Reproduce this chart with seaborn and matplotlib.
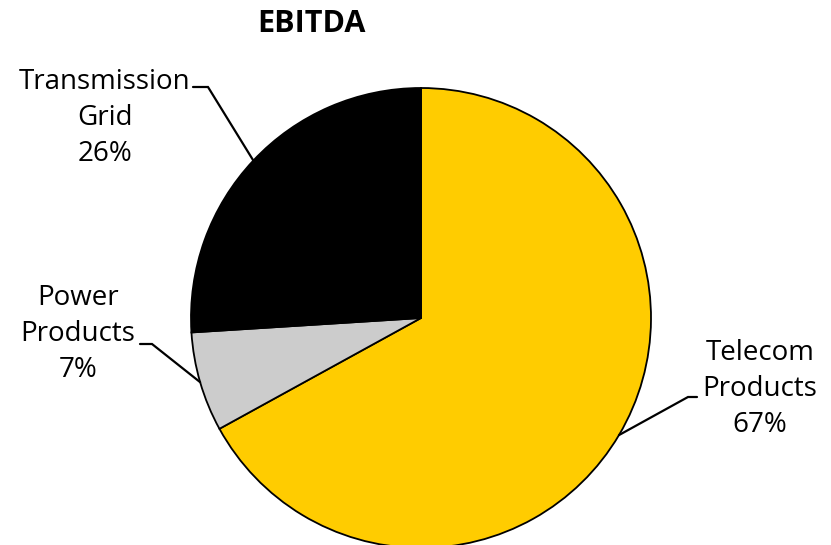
import numpy as np
import matplotlib
matplotlib.use("Agg")
import matplotlib.pyplot as plt
import seaborn as sns

# EBITDA split by business segment (percent)
segments = ["Telecom\nProducts", "Power\nProducts", "Transmission\nGrid"]
shares = [67, 7, 26]
colors = ["#FFCC00", "#CCCCCC", "#000000"]

sns.set_theme(style="white")
plt.rcParams["font.family"] = ["Open Sans", "DejaVu Sans"]

W, H = 831, 545
fig = plt.figure(figsize=(W / 100, H / 100), dpi=100)
ax = fig.add_axes([0, 0, 1, 1])

cx, cy, r = 421, H - 318, 230
wedges, _ = ax.pie(shares, colors=colors, startangle=90, counterclock=False,
                   center=(cx, cy), radius=r, frame=True,
                   wedgeprops=dict(edgecolor="black", linewidth=1.3))
ax.set_xlim(0, W)
ax.set_ylim(0, H)
ax.set_axis_off()

# label text centre, elbow point and horizontal end of each leader line
label_pos = [(760, H - 389), (78, H - 334), (105, H - 118)]
elbows = [(688, H - 397), (152, H - 344), (208, H - 87)]
ends = [(697, H - 397), (140, H - 344), (193, H - 87)]

for w, name, val, tp, el, en in zip(wedges, segments, shares, label_pos, elbows, ends):
    mid = np.deg2rad((w.theta1 + w.theta2) / 2)
    px, py = cx + r * np.cos(mid), cy + r * np.sin(mid)
    ax.plot([px, el[0], en[0]], [py, el[1], en[1]], color="black", lw=1.6,
            solid_joinstyle="miter")
    ax.text(tp[0], tp[1], f"{name}\n{val}%", ha="center", va="center",
            fontsize=20, linespacing=1.38, color="black")

fig.text(311 / W, 1 - 24 / H, "EBITDA", ha="center", va="center",
         fontsize=22, fontweight="bold", color="black")

fig.savefig("out.png", dpi=100, facecolor="white")
